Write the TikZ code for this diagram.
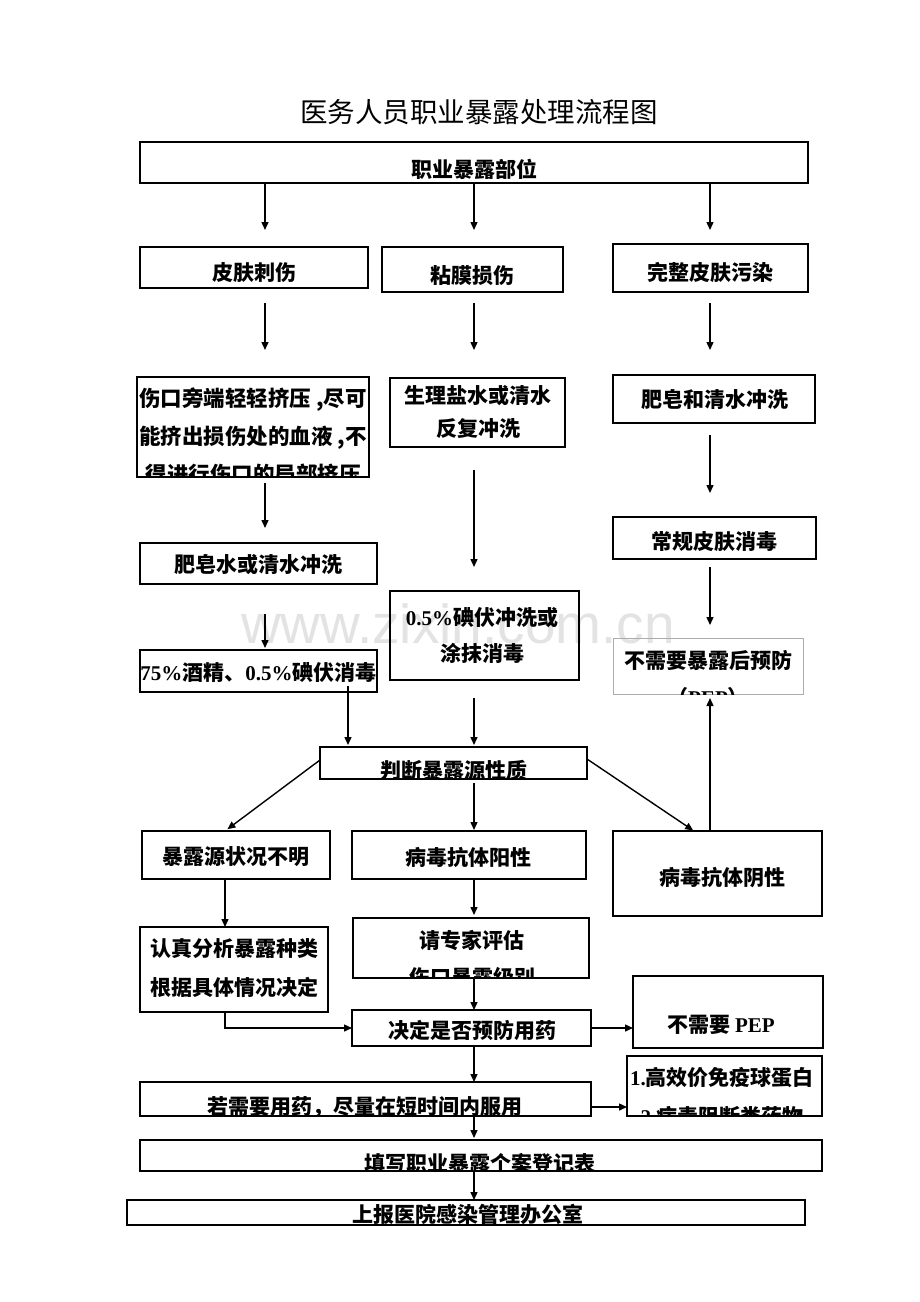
\documentclass[tikz,border=0pt]{standalone}
\usepackage{fontspec}
\usetikzlibrary{arrows.meta,fit}
\newfontfamily\cjk{Noto Sans CJK SC}
\newfontfamily\tms{Liberation Serif}
\newfontfamily\wmf{Liberation Sans}
\newcommand{\fcbox}[7]{%
  \node[box,#4,fit={#2 #3}] (#1) {};
  \begin{scope}
    \clip (#1.south west) rectangle (#1.north east);
    \node[tx,#6] (#1t) at #5 {#7};
  \end{scope}}
\newcommand{\rt}[1]{{\tms\bfseries #1}}
\begin{document}
\begin{tikzpicture}[x=1pt,y=-1pt,
  box/.style={draw, rectangle, line width=1.8pt, inner sep=0pt, outer sep=0pt},
  graybox/.style={draw=gray!65, line width=0.8pt},
  tx/.style={font=\cjk\bfseries\fontsize{21}{37}\selectfont, inner sep=0pt, align=center},
  arr/.style={line width=1.4pt, -{Triangle[length=8pt,width=7pt]}}]
\useasboundingbox (0,0) rectangle (920,1302);
\fill[white] (0,0) rectangle (920,1302);
\node[font=\wmf\fontsize{55}{60}\selectfont, text=gray!22, anchor=base] (wm) at (458,643) {www.zixin.com.cn};
\node[font=\cjk\fontsize{27.5}{30}\selectfont, inner sep=0pt] (title) at (479,112) {医务人员职业暴露处理流程图};
\coordinate (xA) at (265,0);
\coordinate (xB) at (474,0);
\coordinate (xC) at (710,0);
\coordinate (xD) at (225,0);
\coordinate (xE) at (348,0);
\coordinate (xF) at (694,0);
\fcbox{b1}{(140,142)}{(808,183)}{}{(474,169)}{}{职业暴露部位}
\fcbox{b2}{(140,247)}{(368,288)}{}{(254,273)}{}{皮肤刺伤}
\fcbox{b3}{(382,247)}{(563,292)}{}{(472,276)}{}{粘膜损伤}
\fcbox{b4}{(613,244)}{(808,292)}{}{(710,272)}{}{完整皮肤污染}
\fcbox{b5}{(137,377)}{(369,477)}{}{(253,436)}{font=\cjk\bfseries\fontsize{21.5}{38}\selectfont}{伤口旁端轻轻挤压 ,尽可\\能挤出损伤处的血液 ,不\\得进行伤口的局部挤压}
\fcbox{b6}{(390,378)}{(565,447)}{}{(478,411.5)}{font=\cjk\bfseries\fontsize{21}{33}\selectfont}{生理盐水或清水\\反复冲洗}
\fcbox{b7}{(613,375)}{(815,423)}{}{(715,400)}{}{肥皂和清水冲洗}
\fcbox{b8}{(140,543)}{(377,584)}{}{(258.5,565)}{}{肥皂水或清水冲洗}
\fcbox{b9}{(390,591)}{(579,680)}{}{(482,635)}{font=\cjk\bfseries\fontsize{21}{36}\selectfont}{\rt{0.5\%}碘伏冲洗或\\涂抹消毒}
\fcbox{b10}{(613,517)}{(816,559)}{}{(714,542)}{}{常规皮肤消毒}
\fcbox{b11}{(140,650)}{(377,692)}{}{(258.5,673)}{}{\rt{75\%}酒精、\rt{0.5\%}碘伏消毒}
\fcbox{b12}{(613,638)}{(803,694)}{graybox}{(708,678.5)}{}{不需要暴露后预防\\（\rt{PEP}）}
\fcbox{b13}{(320,747)}{(587,779)}{}{(454,770)}{}{判断暴露源性质}
\fcbox{b14}{(142,831)}{(330,879)}{}{(236,857)}{}{暴露源状况不明}
\fcbox{b15}{(352,831)}{(586,879)}{}{(468,857)}{}{病毒抗体阳性}
\fcbox{b16}{(613,831)}{(822,916)}{}{(722,878)}{}{病毒抗体阴性}
\fcbox{b17}{(140,927)}{(328,1012)}{}{(234,968.5)}{font=\cjk\bfseries\fontsize{21}{39}\selectfont}{认真分析暴露种类\\根据具体情况决定}
\fcbox{b18}{(353,918)}{(589,978)}{}{(472,958.5)}{}{请专家评估\\伤口暴露级别}
\fcbox{b19}{(352,1010)}{(591,1046)}{}{(472,1030)}{}{决定是否预防用药}
\fcbox{b20}{(633,976)}{(823,1048)}{}{(721,1025)}{}{不需要 \rt{PEP}}
\fcbox{b21}{(140,1082)}{(591,1116)}{}{(365,1107)}{}{若需要用药，尽量在短时间内服用}
\fcbox{b22}{(627,1056)}{(822,1116)}{}{(722,1097.5)}{font=\cjk\bfseries\fontsize{21}{39}\selectfont}{\rt{1.}高效价免疫球蛋白\\\rt{2.}病毒阻断类药物}
\fcbox{b23}{(140,1140)}{(822,1171)}{}{(480,1163)}{}{填写职业暴露个案登记表}
\fcbox{b24}{(127,1200)}{(805,1225)}{}{(468,1214)}{}{上报医院感染管理办公室}
% connectors
\draw[arr, shorten >=17pt] (b1.south -| xA) -- (b2.north -| xA);
\draw[arr, shorten >=17pt] (b1.south -| xB) -- (b3.north -| xB);
\draw[arr, shorten >=14pt] (b1.south -| xC) -- (b4.north -| xC);
\draw[arr, shorten <=15pt, shorten >=27pt] (b2.south -| xA) -- (b5.north -| xA);
\draw[arr, shorten <=11pt, shorten >=28pt] (b3.south -| xB) -- (b6.north -| xB);
\draw[arr, shorten <=11pt, shorten >=25pt] (b4.south -| xC) -- (b7.north -| xC);
\draw[arr, shorten <=6pt, shorten >=15pt] (b5.south -| xA) -- (b8.north -| xA);
\draw[arr, shorten <=23pt, shorten >=24pt] (b6.south -| xB) -- (b9.north -| xB);
\draw[arr, shorten <=12pt, shorten >=24pt] (b7.south -| xC) -- (b10.north -| xC);
\draw[arr, shorten <=30pt, shorten >=2pt] (b8.south -| xA) -- (b11.north -| xA);
\draw[arr, shorten <=8pt, shorten >=13pt] (b10.south -| xC) -- (b12.north -| xC);
\draw[arr, shorten <=-6pt, shorten >=2pt] (b11.south -| xE) -- (b13.north -| xE);
\draw[arr, shorten <=18pt, shorten >=2pt] (b9.south -| xB) -- (b13.north -| xB);
\draw[arr, shorten >=3pt] ([yshift=3pt]b13.west) -- (b14.north -| xD);
\draw[arr, shorten <=4pt, shorten >=1pt] (b13.south -| xB) -- (b15.north -| xB);
\draw[arr, shorten >=1pt] ([yshift=4pt]b13.east) -- (b16.north -| xF);
\draw[arr, shorten >=4pt] (b16.north -| xC) -- (b12.south -| xC);
\draw[arr] (b14.south -| xD) -- (b17.north -| xD);
\draw[arr, shorten >=3pt] (b15.south -| xB) -- (b18.north -| xB);
\draw[arr] (b17.south -| xD) |- (b19.west);
\draw[arr] (b18.south -| xB) -- (b19.north -| xB);
\draw[arr] (b19.east) -- (b19.east -| b20.west);
\draw[arr] (b19.south -| xB) -- (b21.north -| xB);
\draw[arr] ([yshift=-8pt]b21.east) -- ([yshift=-8pt]b21.east -| b22.west);
\draw[arr, shorten >=2pt] (b21.south -| xB) -- (b23.north -| xB);
\draw[arr] (b23.south -| xB) -- (b24.north -| xB);
\end{tikzpicture}
\end{document}
